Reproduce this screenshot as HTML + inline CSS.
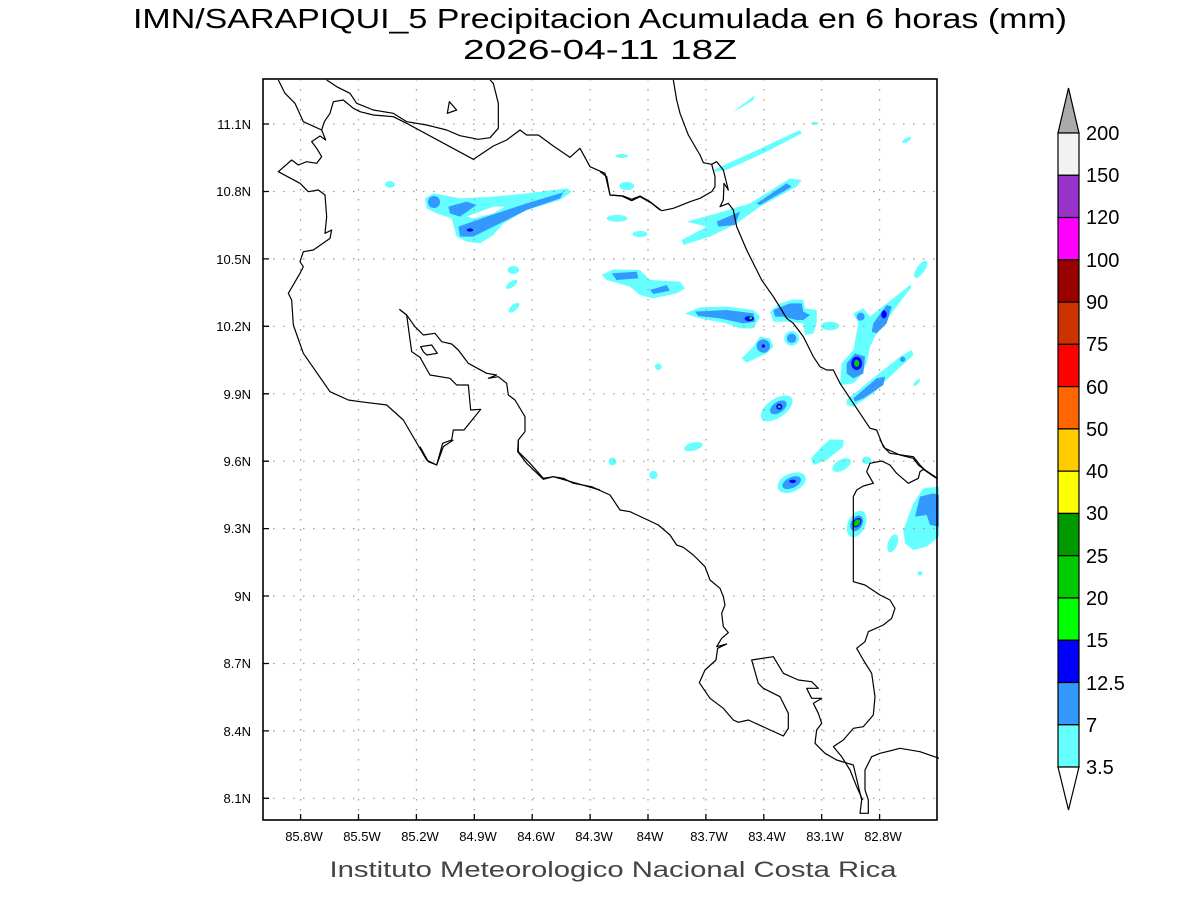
<!DOCTYPE html>
<html><head><meta charset="utf-8"><style>
html,body{margin:0;padding:0;background:#fff;}
svg{display:block;}
text{font-family:"Liberation Sans",sans-serif;fill:#000;}
</style></head><body>
<svg width="1200" height="900" viewBox="0 0 1200 900" xmlns="http://www.w3.org/2000/svg">
<rect width="1200" height="900" fill="#fff"/>
<text x="600" y="28" font-size="28" text-anchor="middle" textLength="934" lengthAdjust="spacingAndGlyphs">IMN/SARAPIQUI_5 Precipitacion Acumulada en 6 horas (mm)</text>
<text x="600" y="59" font-size="28" text-anchor="middle" textLength="274" lengthAdjust="spacingAndGlyphs">2026-04-11 18Z</text>

<g transform="translate(260,70) scale(0.33333)">
<polygon fill="#66ffff" points="495,385 520,370 600,385 700,380 800,370 920,355 935,365 900,390 800,420 730,460 700,495 660,520 620,515 590,500 575,445 530,430 500,415"/>
<circle cx="522" cy="396" r="18" fill="#3399ff"/>
<polygon fill="#3399ff" points="565,410 620,395 650,405 600,440 570,430"/>
<polygon fill="#3399ff" points="595,470 680,440 800,400 910,367 900,385 800,420 700,470 640,500 600,500"/>
<polygon fill="#fff" points="620,440 700,410 735,410 700,430 640,445"/>
<ellipse cx="630" cy="480" rx="10" ry="5" fill="#0000ff"/>
<ellipse cx="390" cy="343" rx="15" ry="10" fill="#66ffff"/>
<ellipse cx="760" cy="600" rx="17" ry="12" fill="#66ffff"/>
<ellipse cx="755" cy="643" rx="20" ry="9" transform="rotate(-35 755 643)" fill="#66ffff"/>
<ellipse cx="762" cy="713" rx="20" ry="9" transform="rotate(-40 762 713)" fill="#66ffff"/>
<ellipse cx="1087" cy="258" rx="18" ry="5" fill="#66ffff"/>
<ellipse cx="1100" cy="348" rx="22" ry="12" fill="#66ffff"/>
<ellipse cx="1072" cy="445" rx="30" ry="10" fill="#66ffff"/>
<ellipse cx="1140" cy="492" rx="22" ry="9" fill="#66ffff"/>
<circle cx="1057" cy="1175" r="11" fill="#66ffff"/>
<circle cx="1195" cy="890" r="10" fill="#66ffff"/>
</g>
<g transform="translate(600,70) scale(0.33333)">
<polygon fill="#66ffff" points="400,125 440,95 465,75 460,90 420,115"/>
<ellipse cx="645" cy="160" rx="12" ry="4" fill="#66ffff"/>
<polygon fill="#66ffff" points="340,300 450,250 600,180 605,190 500,245 380,300 345,305"/>
<ellipse cx="65" cy="258" rx="18" ry="6" fill="#66ffff"/>
<ellipse cx="80" cy="348" rx="22" ry="12" fill="#66ffff"/>
<ellipse cx="920" cy="210" rx="15" ry="6" transform="rotate(-30 920 210)" fill="#66ffff"/>
<polygon fill="#66ffff" points="260,455 350,430 450,400 570,325 605,330 590,350 480,410 410,460 330,500 250,525 245,510 320,470"/>
<polygon fill="#3399ff" points="350,455 420,425 405,465 355,470"/>
<polygon fill="#3399ff" points="470,400 560,340 575,350 480,405"/>
<ellipse cx="50" cy="445" rx="30" ry="10" fill="#66ffff"/>
<ellipse cx="120" cy="492" rx="22" ry="9" fill="#66ffff"/>
<polygon fill="#66ffff" points="5,615 40,598 120,600 150,630 240,635 255,655 230,670 160,685 120,675 90,650 20,630"/>
<polygon fill="#3399ff" points="35,610 110,605 115,625 50,630"/>
<polygon fill="#3399ff" points="150,660 200,645 210,662 160,672"/>
<polygon fill="#66ffff" points="255,730 300,712 380,710 460,720 480,740 460,775 420,775 380,760 300,745"/>
<polygon fill="#3399ff" points="285,725 380,720 460,730 465,755 430,760 360,745 295,738"/>
<ellipse cx="448" cy="746" rx="14" ry="8" fill="#0000ff"/>
<circle cx="452" cy="744" r="4" fill="#00ff00"/>
<polygon fill="#66ffff" points="510,725 540,700 580,688 610,690 615,715 650,720 650,760 640,790 615,795 610,760 560,755 520,755"/>
<polygon fill="#3399ff" points="520,720 570,700 605,700 610,725 630,735 610,750 590,750 550,740 525,740"/>
<circle cx="575" cy="805" r="22" fill="#66ffff"/>
<circle cx="575" cy="805" r="14" fill="#3399ff"/>
<ellipse cx="690" cy="768" rx="28" ry="13" fill="#66ffff"/>
<polygon fill="#66ffff" points="425,865 460,830 480,800 510,805 520,830 500,850 440,878"/>
<circle cx="490" cy="828" r="20" fill="#3399ff"/>
<circle cx="490" cy="828" r="5" fill="#0000ff"/>
<polygon fill="#66ffff" points="760,730 790,715 810,740 930,645 935,650 830,790 810,830 800,880 780,920 760,940 720,945 725,880 760,840 775,760"/>
<polygon fill="#3399ff" points="740,880 765,850 795,860 790,910 760,925 740,910"/>
<ellipse cx="770" cy="880" rx="16" ry="20" fill="#0000ff"/>
<ellipse cx="770" cy="880" rx="8" ry="11" fill="#00cc00"/>
<polygon fill="#3399ff" points="820,760 860,705 875,710 860,760 830,790 815,785"/>
<ellipse cx="852" cy="733" rx="8" ry="12" fill="#0000ff"/>
<circle cx="782" cy="740" r="12" fill="#3399ff"/>
<ellipse cx="962" cy="598" rx="12" ry="30" transform="rotate(35 962 598)" fill="#66ffff"/>
<polygon fill="#66ffff" points="740,990 800,940 900,860 935,840 940,855 870,920 820,970 760,1010 740,1005"/>
<polygon fill="#3399ff" points="760,985 830,925 855,920 850,945 790,985 765,995"/>
<circle cx="908" cy="868" r="8" fill="#3399ff"/>
<ellipse cx="950" cy="938" rx="14" ry="5" transform="rotate(-45 950 938)" fill="#66ffff"/>
<ellipse cx="530" cy="1015" rx="55" ry="28" transform="rotate(-35 530 1015)" fill="#66ffff"/>
<ellipse cx="535" cy="1012" rx="28" ry="16" transform="rotate(-35 535 1012)" fill="#3399ff"/>
<circle cx="538" cy="1010" r="9" fill="#0000ff"/>
<circle cx="538" cy="1010" r="4" fill="#00ff00"/>
<ellipse cx="280" cy="1130" rx="28" ry="12" transform="rotate(-15 280 1130)" fill="#66ffff"/>
<circle cx="38" cy="1175" r="11" fill="#66ffff"/>
<circle cx="160" cy="1215" r="12" fill="#66ffff"/>
<polygon fill="#66ffff" points="665,1130 690,1108 730,1110 730,1130 680,1170 640,1185 633,1165"/>
<ellipse cx="725" cy="1185" rx="30" ry="16" transform="rotate(-30 725 1185)" fill="#66ffff"/>
<ellipse cx="800" cy="1170" rx="14" ry="10" fill="#66ffff"/>
<ellipse cx="575" cy="1235" rx="40" ry="24" transform="rotate(-15 575 1235)" fill="#66ffff"/>
<ellipse cx="575" cy="1233" rx="25" ry="10" transform="rotate(-15 575 1233)" fill="#3399ff"/>
</g>
<g transform="translate(420,440) scale(0.33333)">
<ellipse cx="577" cy="63" rx="11" ry="10" fill="#66ffff"/>
<ellipse cx="700" cy="105" rx="12" ry="12" fill="#66ffff"/>
<ellipse cx="1115" cy="128" rx="45" ry="27" transform="rotate(-25 1115 128)" fill="#66ffff"/>
<ellipse cx="1115" cy="128" rx="30" ry="16" transform="rotate(-25 1115 128)" fill="#3399ff"/>
<ellipse cx="1118" cy="124" rx="10" ry="5" fill="#0000ff"/>
<ellipse cx="1310" cy="252" rx="26" ry="42" transform="rotate(25 1310 252)" fill="#66ffff"/>
<ellipse cx="1310" cy="250" rx="17" ry="25" transform="rotate(30 1310 250)" fill="#3399ff"/>
<ellipse cx="1311" cy="248" rx="11" ry="16" transform="rotate(40 1311 248)" fill="#0000ff"/>
<ellipse cx="1311" cy="248" rx="8" ry="12" transform="rotate(40 1311 248)" fill="#00cc00"/>
<polygon fill="#66ffff" points="1450,270 1480,190 1510,145 1557,140 1557,290 1520,320 1480,330 1455,310"/>
<polygon fill="#3399ff" points="1485,230 1500,170 1540,160 1557,165 1557,260 1530,255 1520,225"/>
<ellipse cx="1418" cy="310" rx="14" ry="28" transform="rotate(20 1418 310)" fill="#66ffff"/>
<circle cx="1500" cy="400" r="7" fill="#66ffff"/>
<ellipse cx="1340" cy="62" rx="14" ry="10" fill="#66ffff"/>
<ellipse cx="1265" cy="75" rx="30" ry="16" transform="rotate(-30 1265 75)" fill="#66ffff"/>
</g>

<g stroke="#999" stroke-width="1.2" stroke-dasharray="1.5 8.5" fill="none">
<path d="M300.6 79V820M358.5 79V820M416.4 79V820M474.3 79V820M532.2 79V820M590.1 79V820M648 79V820M705.9 79V820M763.8 79V820M821.7 79V820M879.6 79V820"/>
<path d="M263 124H937M263 191.5H937M263 258.9H937M263 326.3H937M263 393.8H937M263 461.2H937M263 528.6H937M263 596H937M263 663.5H937M263 730.9H937M263 798.3H937"/>
</g>

<g fill="none" stroke="#000" stroke-width="1.2" stroke-linejoin="round">
<g transform="translate(260,70) scale(0.33333)" stroke-width="3.6">
<polyline points="55,30 75,70 105,100 130,155 185,180"/>
<polyline points="200,30 230,50 270,70 290,100 340,120 400,130 440,155 500,165 560,180 600,197 655,208 690,203 715,175 715,100 700,40 690,30"/>
<polygon points="568,95 590,120 562,130"/>
<polygon points="482,830 515,825 532,850 500,855 490,845"/>
<polyline points="418,718 440,735 465,770 490,795 525,790 545,815 575,822 595,840 625,880 680,910 710,915 685,925 715,920 740,940 745,975 765,990 795,1040 795,1085 775,1110 775,1145 810,1180 850,1225 880,1220 950,1240 1020,1260"/>
<polyline points="418,718 440,735 455,845 480,862 510,915 570,925 590,945 625,945 632,1020 662,1018 612,1080 580,1080 575,1110 548,1120 530,1185 500,1170 430,1050 380,1005 300,995 265,990 210,965 130,850 100,765 95,690 85,670 120,610 130,590 120,575 130,545 160,540 210,505 215,480 195,490 200,440 195,375 175,360 145,365 120,340 55,305 95,270 115,285 140,275 170,280 185,260 170,235 155,215 180,198 197,210 185,180 193,155 210,130 220,95 250,90 280,115 300,125 340,135 400,140 440,160 640,268 700,228 740,210 780,180 800,195 835,195 880,228 930,262 960,235 990,290 1035,310 1050,375 1085,378 1115,392 1140,380 1175,400 1200,420"/>
</g>
<g transform="translate(600,70) scale(0.33333)" stroke-width="3.6">
<polyline points="0,305 20,320 30,375 70,378 95,388 120,378 150,395 185,422 220,415 270,395 300,385 335,365 345,350 345,320 335,283 310,278 300,255 265,195 240,130 230,90 220,30"/>
<polyline points="335,283 350,275 370,300 385,360 372,340 370,390 360,410 385,400 400,420 410,470 440,540 470,600 485,630 520,680 545,720 560,745 580,760 610,800 640,860 660,890 680,900 700,900 720,940 780,1030 810,1075 830,1080 850,1130 870,1150 940,1160 960,1185 975,1200 1013,1225"/>
</g>
<g transform="translate(420,440) scale(0.33333)" stroke-width="3.6">
<polyline points="0,20 25,65 50,75 70,20 100,0"/>
<polyline points="295,0 293,35 320,70 370,118 400,110 430,115 460,130 515,140 570,165 600,210 630,215 715,255 750,285 770,315 790,322 820,345 855,380 870,420 900,445 910,470 915,495 905,520 910,560 925,578 905,595 890,620 920,612 893,625 888,660 855,690 838,728 870,775 910,805 940,840 955,847 985,840 1090,888 1105,865 1105,820 1080,770 1030,745 1015,730 995,660 1060,650 1090,700 1135,720 1175,725 1195,745 1160,745 1175,775 1205,775 1180,790 1195,820 1205,850 1190,870 1185,910 1215,940 1250,960 1300,975 1325,1080 1320,1120 1345,1120 1345,1080 1335,1050 1335,990 1355,950 1380,940 1440,925 1500,935 1557,955"/>
<polyline points="1240,920 1270,900 1300,865 1330,860 1360,825 1365,770 1355,700 1330,660 1310,625 1335,605 1345,575 1390,555 1415,535 1425,505 1410,480 1380,465 1335,435 1300,425 1300,170 1310,150 1330,138 1360,130 1340,95 1350,70 1385,63 1410,75 1430,100 1465,130 1495,115 1500,95 1510,88 1550,115"/>
<polyline points="1240,920 1265,950 1290,990 1310,1040 1328,1080"/>
<polyline points="1380,0 1395,25 1440,45 1480,55 1495,75 1515,90 1550,115"/>
</g>
</g>

<rect x="263" y="79" width="674" height="741" fill="none" stroke="#000" stroke-width="1.6"/>
<g stroke="#000" stroke-width="1.3">
<path d="M300.6 820v-6M358.5 820v-6M416.4 820v-6M474.3 820v-6M532.2 820v-6M590.1 820v-6M648 820v-6M705.9 820v-6M763.8 820v-6M821.7 820v-6M879.6 820v-6"/>
<path d="M263 124h6M263 191.5h6M263 258.9h6M263 326.3h6M263 393.8h6M263 461.2h6M263 528.6h6M263 596h6M263 663.5h6M263 730.9h6M263 798.3h6"/>
</g>
<g font-size="13" text-anchor="middle">
<text x="304" y="841">85.8W</text><text x="362" y="841">85.5W</text><text x="420" y="841">85.2W</text><text x="478" y="841">84.9W</text><text x="536" y="841">84.6W</text><text x="594" y="841">84.3W</text><text x="650" y="841">84W</text><text x="709" y="841">83.7W</text><text x="767" y="841">83.4W</text><text x="825" y="841">83.1W</text><text x="883" y="841">82.8W</text>
</g>
<g font-size="13" text-anchor="end">
<text x="251" y="129">11.1N</text><text x="251" y="196">10.8N</text><text x="251" y="264">10.5N</text><text x="251" y="331">10.2N</text><text x="251" y="399">9.9N</text><text x="251" y="466">9.6N</text><text x="251" y="533">9.3N</text><text x="251" y="601">9N</text><text x="251" y="668">8.7N</text><text x="251" y="736">8.4N</text><text x="251" y="803">8.1N</text>
</g>
<text x="613" y="877" font-size="22" text-anchor="middle" textLength="567" lengthAdjust="spacingAndGlyphs" style="fill:#444">Instituto Meteorologico Nacional Costa Rica</text>

<g stroke="#000" stroke-width="1.2">
<polygon points="1058,133 1079,133 1068.5,88" fill="#aaaaaa"/>
<rect x="1058" y="133" width="21" height="42.27" fill="#f2f2f2"/>
<rect x="1058" y="175.27" width="21" height="42.27" fill="#9933cc"/>
<rect x="1058" y="217.54" width="21" height="42.27" fill="#ff00ff"/>
<rect x="1058" y="259.81" width="21" height="42.27" fill="#990000"/>
<rect x="1058" y="302.08" width="21" height="42.27" fill="#cc3300"/>
<rect x="1058" y="344.35" width="21" height="42.27" fill="#ff0000"/>
<rect x="1058" y="386.62" width="21" height="42.27" fill="#ff6600"/>
<rect x="1058" y="428.89" width="21" height="42.27" fill="#ffcc00"/>
<rect x="1058" y="471.16" width="21" height="42.27" fill="#ffff00"/>
<rect x="1058" y="513.43" width="21" height="42.27" fill="#009900"/>
<rect x="1058" y="555.7" width="21" height="42.27" fill="#00cc00"/>
<rect x="1058" y="597.97" width="21" height="42.27" fill="#00ff00"/>
<rect x="1058" y="640.24" width="21" height="42.27" fill="#0000ff"/>
<rect x="1058" y="682.51" width="21" height="42.27" fill="#3399ff"/>
<rect x="1058" y="724.78" width="21" height="42.27" fill="#66ffff"/>
<polygon points="1058,767 1079,767 1068.5,810" fill="#fff"/>
</g>
<g font-size="20">
<text x="1086" y="140">200</text><text x="1086" y="182">150</text><text x="1086" y="224">120</text><text x="1086" y="267">100</text><text x="1086" y="309">90</text><text x="1086" y="351">75</text><text x="1086" y="394">60</text><text x="1086" y="436">50</text><text x="1086" y="478">40</text><text x="1086" y="520">30</text><text x="1086" y="563">25</text><text x="1086" y="605">20</text><text x="1086" y="647">15</text><text x="1086" y="690">12.5</text><text x="1086" y="732">7</text><text x="1086" y="774">3.5</text>
</g>
</svg>
</body></html>
